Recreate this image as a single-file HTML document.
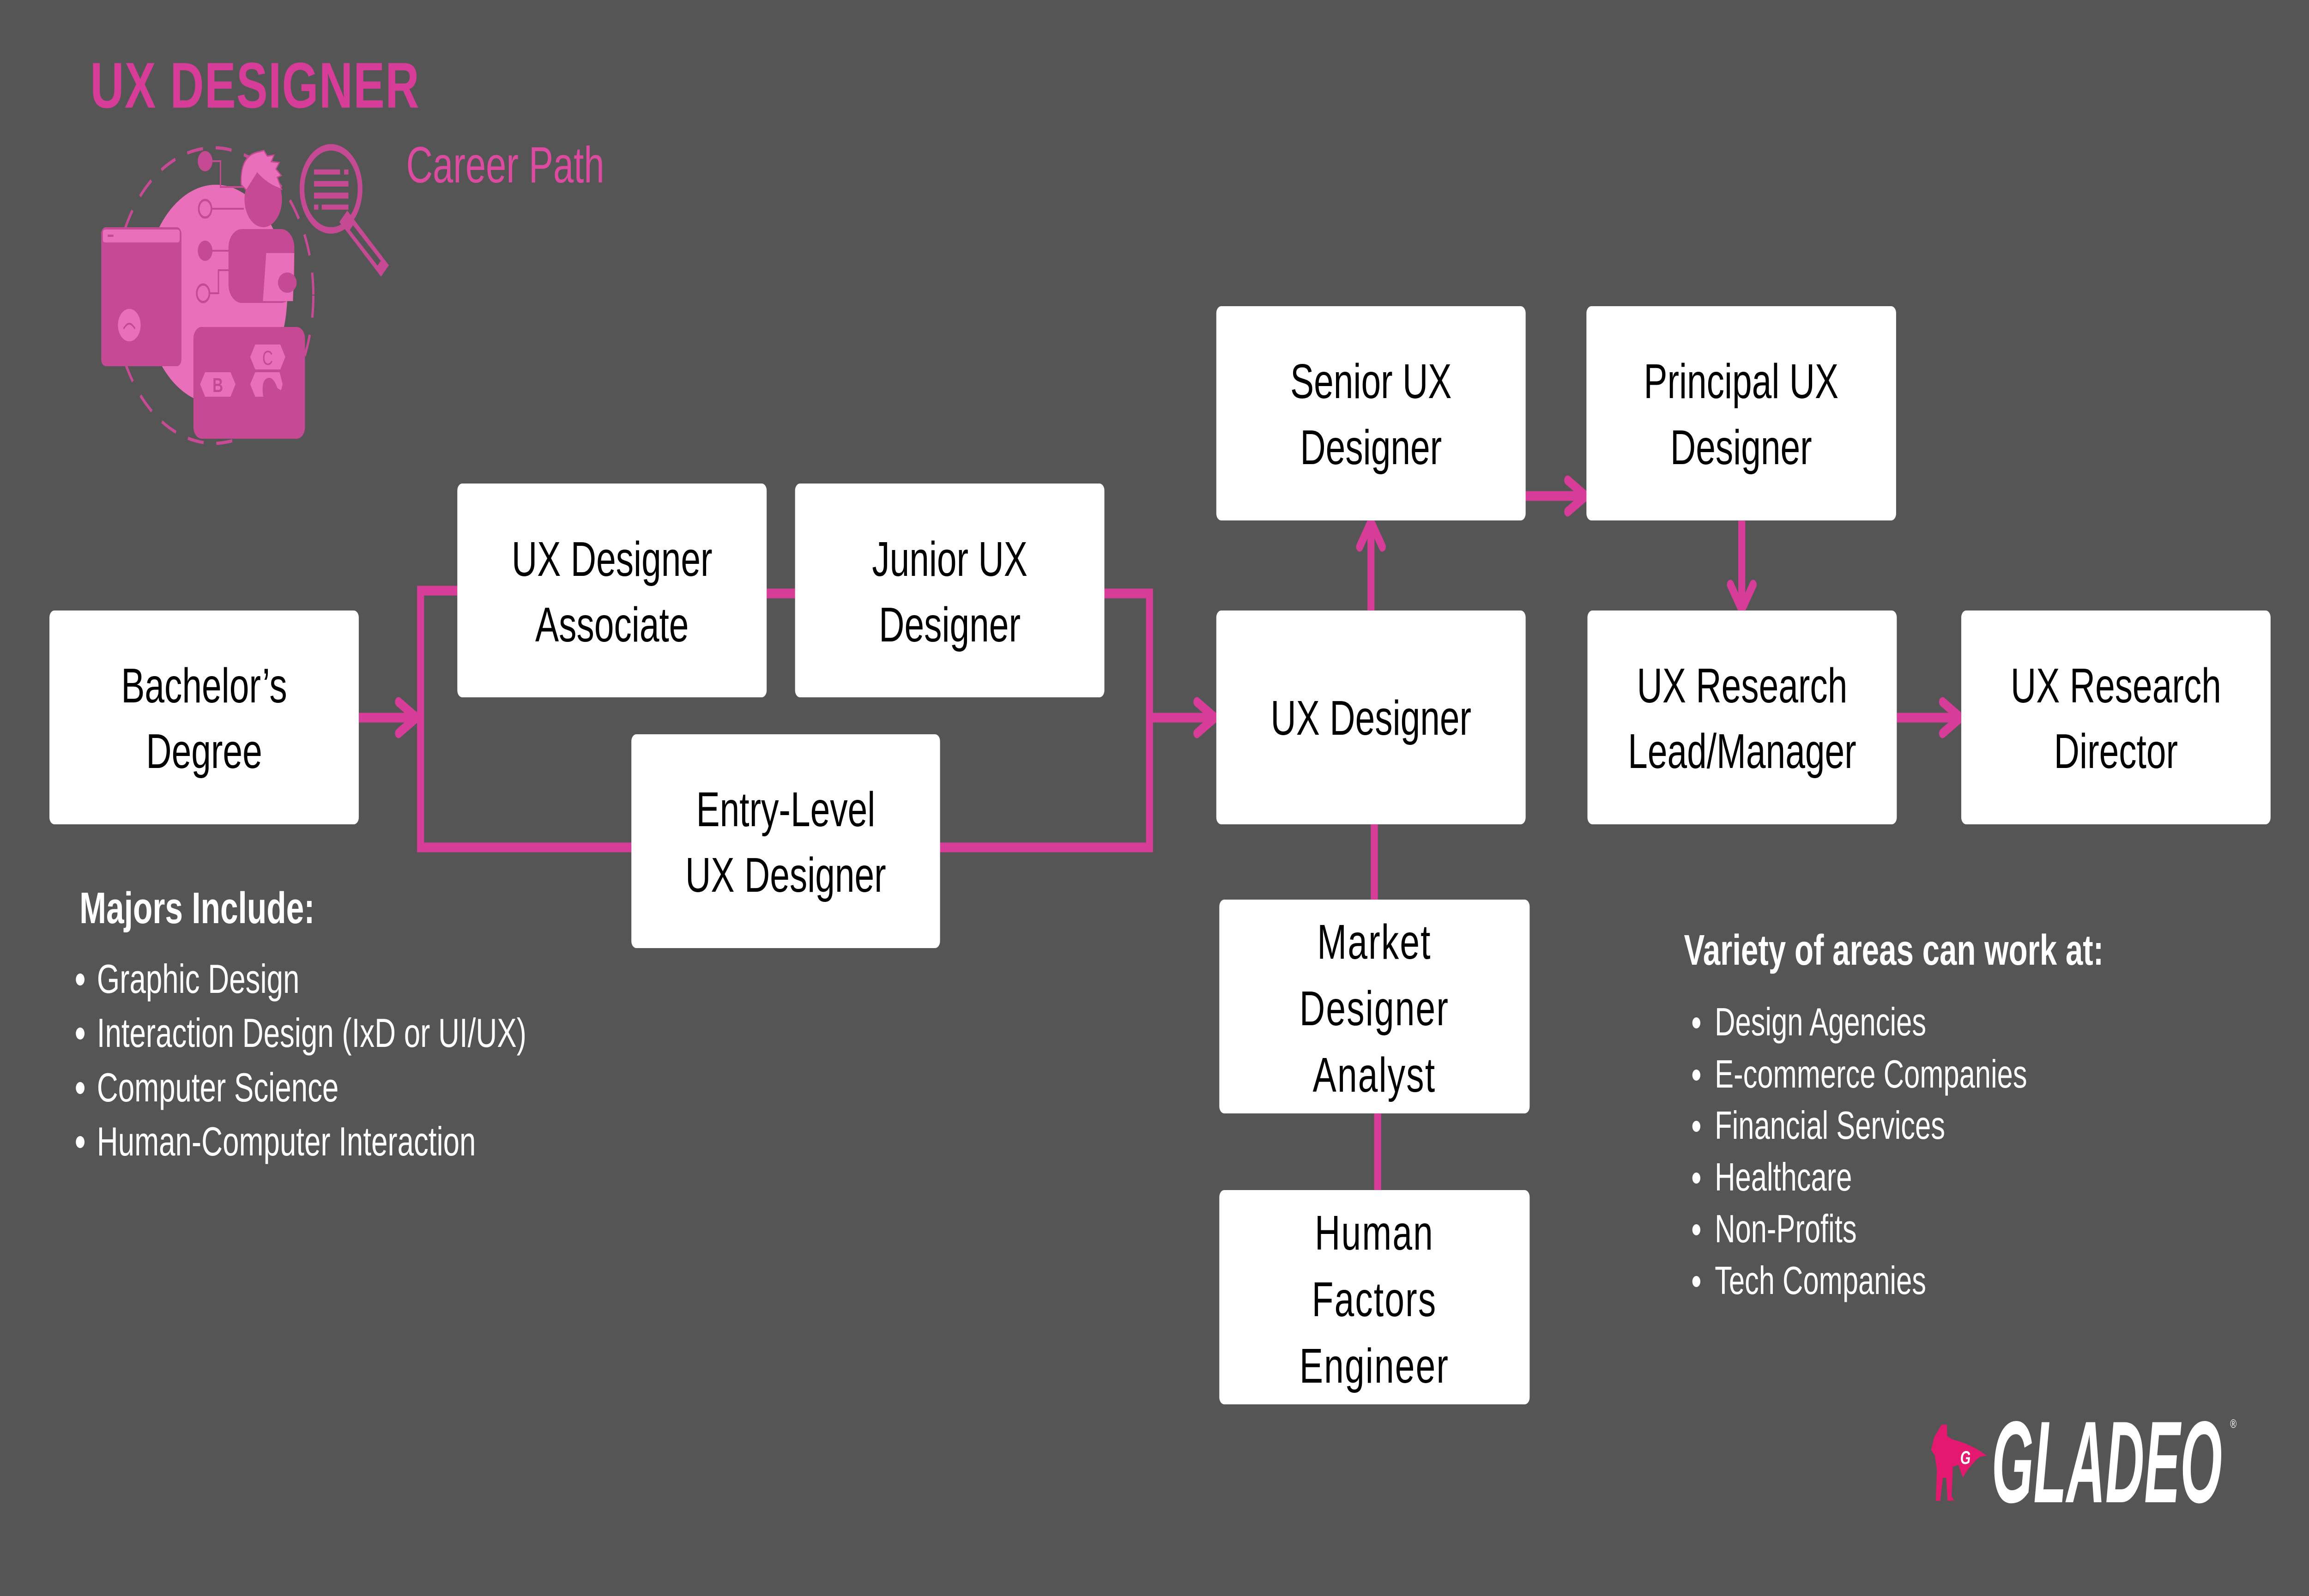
<!DOCTYPE html>
<html>
<head>
<meta charset="utf-8">
<style>
html,body{margin:0;padding:0;background:#555555;width:100%;height:100%;overflow:hidden;}
svg{display:block;position:absolute;left:0;top:0;width:100vw;height:100vh;}
text{font-family:"Liberation Sans",Arial,sans-serif;}
</style>
</head>
<body>
<svg viewBox="0 0 6912 3456" preserveAspectRatio="none" xmlns="http://www.w3.org/2000/svg">
<rect x="0" y="0" width="6912" height="3456" fill="#555555"/>

<!-- Title -->
<text x="270" y="233" font-size="140" font-weight="bold" fill="#d63c98" letter-spacing="2">UX DESIGNER</text>
<text x="1216" y="395" font-size="110" fill="#dc4ba0">Career Path</text>

<!-- Icon -->
<g>
  <ellipse cx="640" cy="640" rx="298" ry="320" fill="none" stroke="#c84a95" stroke-width="7" stroke-dasharray="48 38"/>
  <ellipse cx="646" cy="637" rx="214" ry="237" fill="#ea6fba"/>
  <g stroke="#c54a93" stroke-width="4" fill="none">
    <polyline points="636,349 660,349 660,405 730,405"/>
    <line x1="634" y1="452" x2="730" y2="452"/>
    <line x1="636" y1="543" x2="690" y2="543"/>
    <polyline points="628,635 654,635 654,585 690,585"/>
  </g>
  <circle cx="614" cy="349" r="22" fill="#c54a93"/>
  <circle cx="614" cy="452" r="19" fill="#ea6fba" stroke="#c54a93" stroke-width="5"/>
  <circle cx="614" cy="543" r="22" fill="#c54a93"/>
  <circle cx="608" cy="635" r="19" fill="#ea6fba" stroke="#c54a93" stroke-width="5"/>
  <rect x="303" y="492" width="240" height="301" rx="14" fill="#c54a93"/>
  <rect x="308" y="497" width="230" height="28" rx="6" fill="#ea6fba"/>
  <rect x="322" y="508" width="18" height="5" rx="2" fill="#c54a93"/>
  <ellipse cx="387" cy="704" rx="34" ry="35" fill="#ea6fba"/>
  <path d="M370,712 Q387,690 404,712" fill="none" stroke="#c54a93" stroke-width="4"/>
  <rect x="684" y="496" width="197" height="160" rx="40" fill="#c54a93"/>
  <ellipse cx="788" cy="432" rx="56" ry="60" fill="#c54a93"/>
  <path d="M722,400 Q718,340 768,330 L790,326 L800,338 L820,336 L812,350 L836,352 L826,366 L842,380 L830,384 L843,410 Q800,400 770,375 L738,412 Z" fill="#ea6fba" stroke="#c54a93" stroke-width="3"/>
  <polygon points="797,548 881,548 877,652 787,652" fill="#ea6fba"/>
  <ellipse cx="860" cy="612" rx="28" ry="22" fill="#c54a93"/>
  <rect x="579" y="708" width="334" height="242" rx="25" fill="#c54a93"/>
  <polygon points="749,773 764,746 839,746 854,773 839,800 764,800" fill="#ea6fba"/>
  <text x="801" y="790" font-size="44" fill="#c54a93" text-anchor="middle">C</text>
  <polygon points="599,832 614,806 690,806 705,832 690,859 614,859" fill="#ea6fba"/>
  <text x="652" y="849" font-size="44" font-weight="bold" fill="#c54a93" text-anchor="middle">B</text>
  <polygon points="749,832 764,806 837,806 846,832 837,859 764,859" fill="#ea6fba"/>
  <path d="M788,859 Q780,820 805,818 Q820,818 830,840 L840,845 L860,830 L895,880 L870,900 Z" fill="#c54a93"/>
  <ellipse cx="991" cy="409" rx="87" ry="90" fill="none" stroke="#c54a93" stroke-width="14"/>
  <line x1="1040" y1="480" x2="1140" y2="575" stroke="#c54a93" stroke-width="34" stroke-linecap="square"/>
  <line x1="1052" y1="493" x2="1135" y2="570" stroke="#555555" stroke-width="14"/>
  <rect x="940" y="367" width="78" height="11" fill="#c54a93"/>
  <rect x="1030" y="367" width="13" height="11" fill="#c54a93"/>
  <rect x="940" y="392" width="103" height="12" fill="#c54a93"/>
  <rect x="940" y="417" width="103" height="13" fill="#c54a93"/>
  <rect x="940" y="443" width="13" height="11" fill="#c54a93"/>
  <rect x="963" y="443" width="80" height="11" fill="#c54a93"/>
</g>

<!-- Connectors -->
<g stroke="#d63c98" stroke-width="21" fill="none">
  <line x1="1074" y1="1554" x2="1240" y2="1554"/>
  <polyline points="1371,1279 1259,1279 1259,1835 1892,1835" stroke-linejoin="miter"/>
  <line x1="2293" y1="1285" x2="2382" y2="1285"/>
  <polyline points="3304,1285 3441,1285 3441,1835 2812,1835" stroke-linejoin="miter"/>
  <line x1="3441" y1="1554" x2="3630" y2="1554"/>
  <line x1="4104" y1="1324" x2="4104" y2="1138"/>
  <line x1="4565" y1="1074" x2="4740" y2="1074"/>
  <line x1="5214" y1="1125" x2="5214" y2="1312"/>
  <line x1="5676" y1="1554" x2="5862" y2="1554"/>
  <line x1="4114" y1="1780" x2="4114" y2="1952"/>
  <line x1="4124" y1="2405" x2="4124" y2="2582"/>
</g>
<g stroke="#d63c98" stroke-width="21" fill="none" stroke-linecap="round" stroke-linejoin="round">
  <polyline points="1193,1520 1247,1554 1193,1588"/>
  <polyline points="3583,1520 3637,1554 3583,1588"/>
  <polyline points="4070,1184 4104,1130 4138,1184"/>
  <polyline points="4693,1040 4747,1074 4693,1108"/>
  <polyline points="5180,1266 5214,1320 5248,1266"/>
  <polyline points="5815,1520 5869,1554 5815,1588"/>
</g>

<!-- Boxes -->
<g fill="#ffffff">
  <rect x="148" y="1322" width="926" height="463" rx="15"/>
  <rect x="1369" y="1047" width="926" height="463" rx="15"/>
  <rect x="2380" y="1047" width="926" height="463" rx="15"/>
  <rect x="1890" y="1590" width="924" height="463" rx="15"/>
  <rect x="3641" y="663" width="926" height="464" rx="15"/>
  <rect x="4749" y="663" width="927" height="464" rx="15"/>
  <rect x="3641" y="1322" width="926" height="463" rx="15"/>
  <rect x="4752" y="1322" width="926" height="463" rx="15"/>
  <rect x="5871" y="1322" width="926" height="463" rx="15"/>
  <rect x="3650" y="1948" width="929" height="463" rx="15"/>
  <rect x="3650" y="2577" width="929" height="464" rx="15"/>
</g>

<g font-size="106" fill="#000000" text-anchor="middle">
  <text x="611" y="1521">Bachelor’s</text>
  <text x="611" y="1663">Degree</text>
  <text x="1832" y="1247">UX Designer</text>
  <text x="1832" y="1389">Associate</text>
  <text x="2843" y="1247">Junior UX</text>
  <text x="2843" y="1389">Designer</text>
  <text x="2352" y="1789">Entry-Level</text>
  <text x="2352" y="1931">UX Designer</text>
  <text x="4104" y="862">Senior UX</text>
  <text x="4104" y="1005">Designer</text>
  <text x="5212" y="862">Principal UX</text>
  <text x="5212" y="1005">Designer</text>
  <text x="4104" y="1591">UX Designer</text>
  <text x="5215" y="1521">UX Research</text>
  <text x="5215" y="1663">Lead/Manager</text>
  <text x="6334" y="1521">UX Research</text>
  <text x="6334" y="1663">Director</text>
  <text x="4114" y="2076" letter-spacing="3">Market</text>
  <text x="4114" y="2220" letter-spacing="3">Designer</text>
  <text x="4114" y="2364" letter-spacing="3">Analyst</text>
  <text x="4114" y="2706" letter-spacing="3">Human</text>
  <text x="4114" y="2850" letter-spacing="3">Factors</text>
  <text x="4114" y="2994" letter-spacing="3">Engineer</text>
</g>

<!-- Majors list -->
<g fill="#ffffff">
  <text x="238" y="1999" font-size="96" font-weight="bold">Majors Include:</text>
  <g font-size="88">
    <text x="290" y="2150">Graphic Design</text>
    <text x="290" y="2267">Interaction Design (IxD or UI/UX)</text>
    <text x="290" y="2385">Computer Science</text>
    <text x="290" y="2502">Human-Computer Interaction</text>
  </g>
  <circle cx="240" cy="2121" r="13"/>
  <circle cx="240" cy="2238" r="13"/>
  <circle cx="240" cy="2356" r="13"/>
  <circle cx="240" cy="2473" r="13"/>
</g>

<!-- Variety list -->
<g fill="#ffffff">
  <text x="5041" y="2089" font-size="93" font-weight="bold">Variety of areas can work at:</text>
  <g font-size="85">
    <text x="5133" y="2242">Design Agencies</text>
    <text x="5133" y="2355">E-commerce Companies</text>
    <text x="5133" y="2466">Financial Services</text>
    <text x="5133" y="2578">Healthcare</text>
    <text x="5133" y="2690">Non-Profits</text>
    <text x="5133" y="2802">Tech Companies</text>
  </g>
  <circle cx="5078" cy="2215" r="12"/>
  <circle cx="5078" cy="2328" r="12"/>
  <circle cx="5078" cy="2439" r="12"/>
  <circle cx="5078" cy="2551" r="12"/>
  <circle cx="5078" cy="2663" r="12"/>
  <circle cx="5078" cy="2775" r="12"/>
</g>

<!-- GLADEO logo -->
<path d="M5812,3085 L5828,3085 L5829,3110 L5845,3117 Q5905,3128 5949,3153 Q5925,3150 5908,3168 Q5888,3182 5876,3200 L5862,3172 L5846,3176 L5842,3240 L5850,3249 L5830,3250 L5826,3200 L5816,3200 L5808,3250 L5795,3250 L5798,3182 L5792,3152 L5781,3140 L5790,3112 Z" fill="#e5186f"/>
<text x="5868" y="3170" font-size="40" font-weight="bold" font-style="italic" fill="#ffffff">G</text>
<text transform="translate(5962,3253) scale(0.64,1)" font-size="252" font-weight="bold" font-style="italic" fill="#ffffff">GLADEO</text>
<text x="6676" y="3092" font-size="26" fill="#ffffff">®</text>
</svg>
</body>
</html>
